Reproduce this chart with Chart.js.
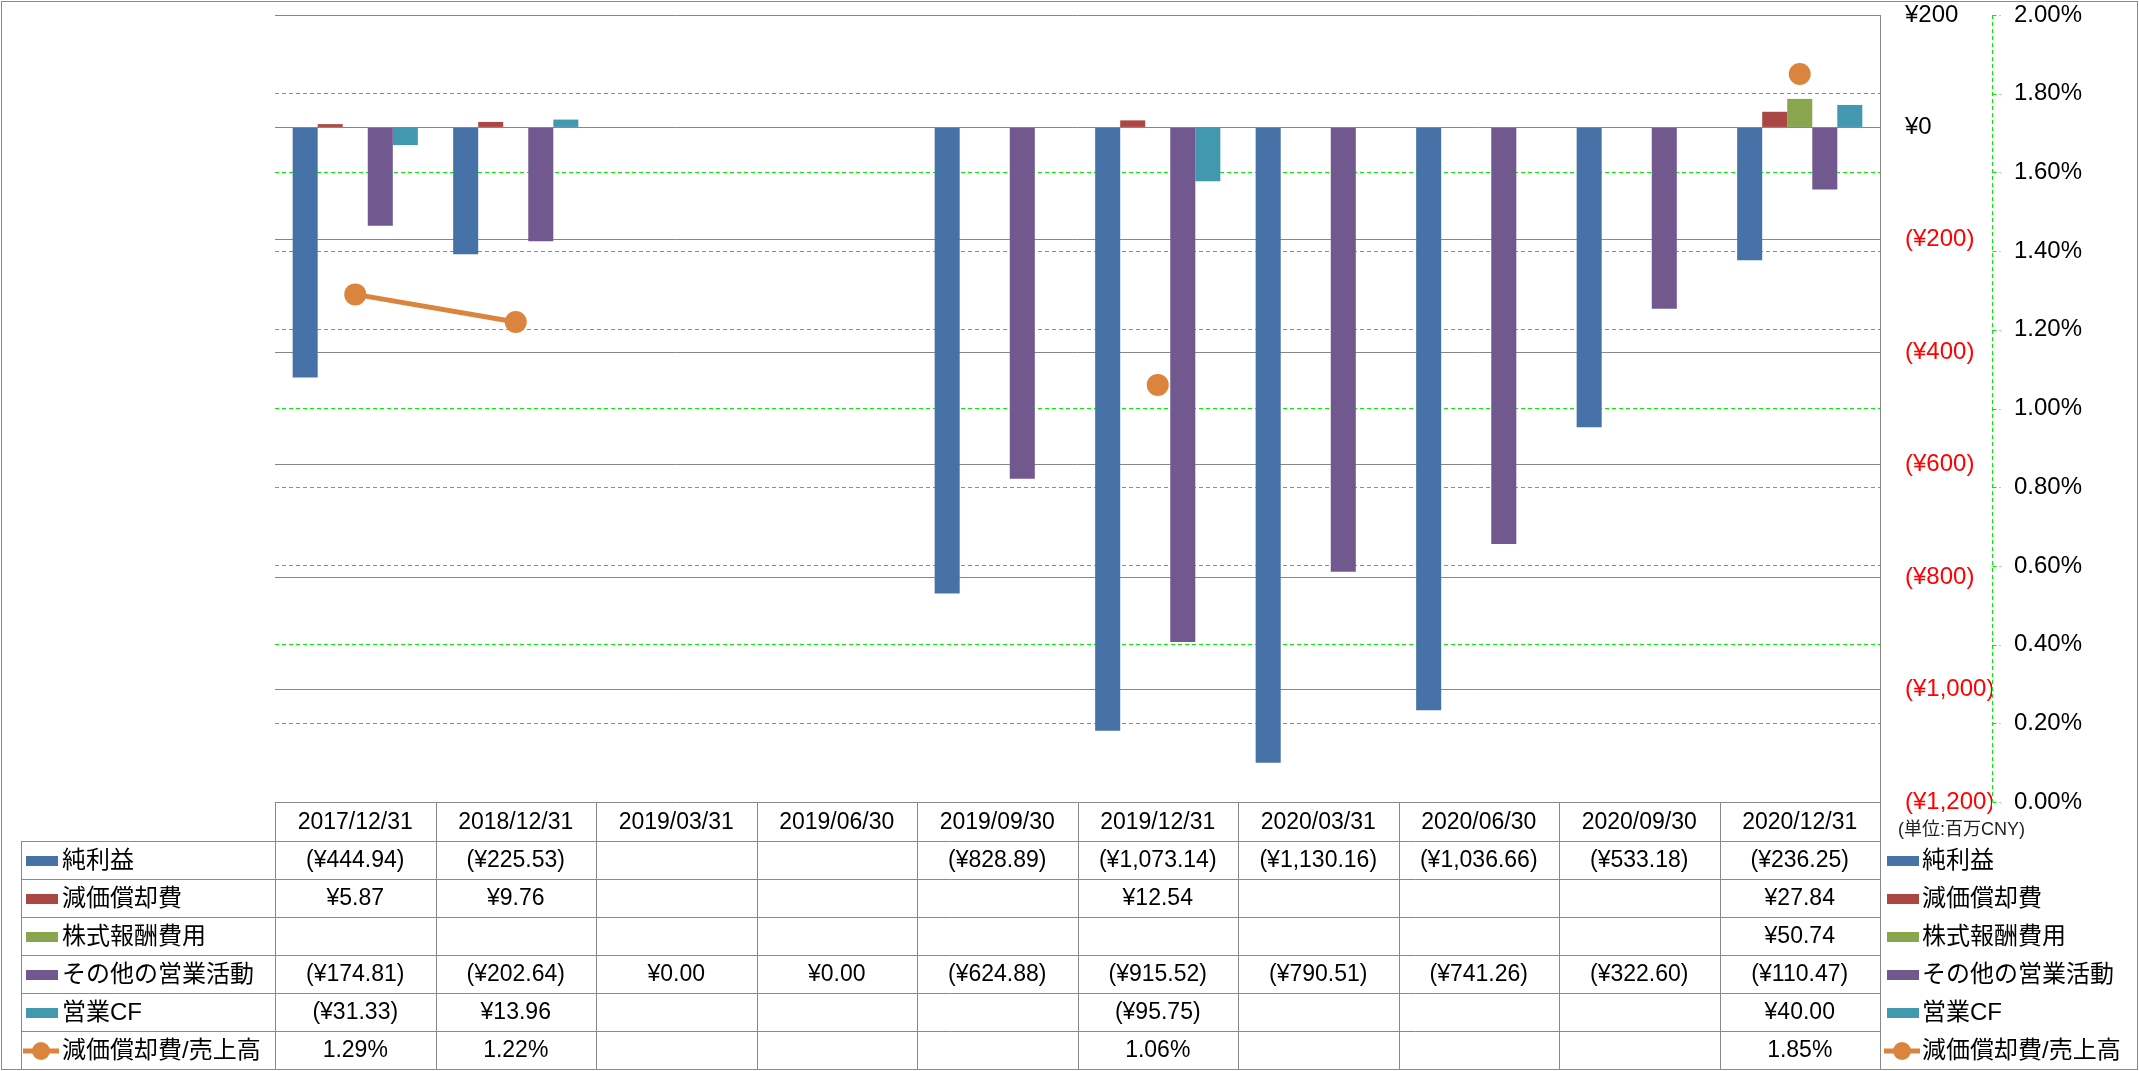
<!DOCTYPE html>
<html>
<head>
<meta charset="utf-8">
<script src="https://cdn.jsdelivr.net/npm/chart.js@4.4.1/dist/chart.umd.min.js"></script>
<style>
  html, body { margin: 0; padding: 0; background: #fff; }
</style>
</head>
<body>
<canvas id="chart" width="2139" height="1071"></canvas>
<script>
// 決算期
const periods = ['2017/12/31', '2018/12/31', '2019/03/31', '2019/06/30', '2019/09/30',
                 '2019/12/31', '2020/03/31', '2020/06/30', '2020/09/30', '2020/12/31'];

// 百万CNY
const netIncome    = [-444.94, -225.53, null, null, -828.89, -1073.14, -1130.16, -1036.66, -533.18, -236.25];
const depreciation = [5.87, 9.76, null, null, null, 12.54, null, null, null, 27.84];
const stockComp    = [null, null, null, null, null, null, null, null, null, 50.74];
const otherOps     = [-174.81, -202.64, 0, 0, -624.88, -915.52, -790.51, -741.26, -322.60, -110.47];
const operatingCF  = [-31.33, 13.96, null, null, null, -95.75, null, null, null, 40.00];
// 減価償却費/売上高 (%)
const deprRatio    = [1.29, 1.22, null, null, null, 1.06, null, null, null, 1.85];

const seriesNames = ['純利益', '減価償却費', '株式報酬費用', 'その他の営業活動', '営業CF', '減価償却費/売上高'];
const colors = ['#4672A8', '#AA4643', '#89A54E', '#71588F', '#4198AF', '#DB843D'];

const FONT = '"Liberation Sans", "Noto Sans CJK JP", sans-serif';
Chart.defaults.font.family = FONT;
Chart.defaults.font.size = 23;
Chart.defaults.color = '#000';

const GREEN = '#00ee00';

function yen(v, digits) {
  const s = Math.abs(v).toLocaleString('en-US', {minimumFractionDigits: digits, maximumFractionDigits: digits});
  return v < 0 ? '(¥' + s + ')' : '¥' + s;
}

const barSeries = [netIncome, depreciation, stockComp, otherOps, operatingCF];

// 表 + 凡例
const tablePlugin = {
  id: 'dataTable',
  afterDraw(chart) {
    const {ctx, chartArea, scales} = chart;
    const x = scales.x;
    const colW = (x.right - x.left) / periods.length;
    const top = chartArea.bottom;
    const headH = 39, rowH = 38;
    const legendLeft = 21;
    const bottom = top + headH + rowH * 6;
    const line = '#898989';

    ctx.save();
    ctx.strokeStyle = line;
    ctx.lineWidth = 1;
    ctx.beginPath();
    // 横線
    for (let r = 0; r <= 6; r++) {
      const yy = Math.round(top + headH + r * rowH) + 0.5;
      ctx.moveTo(legendLeft, yy);
      ctx.lineTo(chartArea.right, yy);
    }
    // 縦線
    for (let c = 0; c <= periods.length; c++) {
      const xx = Math.round(x.left + c * colW) + 0.5;
      ctx.moveTo(xx, top);
      ctx.lineTo(xx, bottom);
    }
    ctx.moveTo(legendLeft + 0.5, top + headH);
    ctx.lineTo(legendLeft + 0.5, bottom);
    ctx.stroke();

    // 外枠
    ctx.strokeRect(1.5, 1.5, chart.width - 3, chart.height - 3);

    // %軸の線と目盛
    const y1 = scales.y1;
    const ax = Math.round(y1.left) + 0.5;
    ctx.strokeStyle = GREEN;
    ctx.setLineDash([4, 3]);
    ctx.beginPath();
    ctx.moveTo(ax, y1.top);
    ctx.lineTo(ax, y1.bottom);
    y1.ticks.forEach(t => {
      const ty = Math.round(y1.getPixelForValue(t.value)) + 0.5;
      ctx.moveTo(ax, ty);
      ctx.lineTo(ax + 8, ty);
    });
    ctx.stroke();
    ctx.setLineDash([]);

    ctx.fillStyle = '#000';
    ctx.font = '23px ' + FONT;
    ctx.textBaseline = 'middle';
    ctx.textAlign = 'center';
    periods.forEach((p, i) => {
      ctx.fillText(p, x.getPixelForValue(i), top + headH / 2 + 1);
    });

    const rows = barSeries.concat([deprRatio]);
    rows.forEach((data, r) => {
      const cy = top + headH + r * rowH + rowH / 2 + 1;
      ctx.textAlign = 'center';
      ctx.fillStyle = '#000';
      ctx.font = '23px ' + FONT;
      data.forEach((v, i) => {
        if (v === null) return;
        const txt = r === 5 ? v.toFixed(2) + '%' : yen(v, 2);
        ctx.fillText(txt, x.getPixelForValue(i), cy);
      });
      // 凡例 (左と右)
      [[26, 62], [1887, 1922]].forEach(([sx, tx]) => {
        if (r === 5) {
          ctx.strokeStyle = colors[5];
          ctx.lineWidth = 5;
          ctx.beginPath();
          ctx.moveTo(sx - 3, cy);
          ctx.lineTo(sx + 33, cy);
          ctx.stroke();
          ctx.fillStyle = colors[5];
          ctx.beginPath();
          ctx.arc(sx + 15, cy, 9, 0, Math.PI * 2);
          ctx.fill();
        } else {
          ctx.fillStyle = colors[r];
          ctx.fillRect(sx, cy - 5, 32, 10);
        }
        ctx.fillStyle = '#000';
        ctx.textAlign = 'left';
        ctx.font = '24px ' + FONT;
        ctx.fillText(seriesNames[r], tx, cy);
      });
    });

    ctx.font = '18px ' + FONT;
    ctx.fillStyle = '#222';
    ctx.textAlign = 'left';
    ctx.fillText('(単位:百万CNY)', 1898, top + 28);
    ctx.restore();
  }
};

const datasets = barSeries.map((data, i) => ({
  type: 'bar',
  label: seriesNames[i],
  data: data,
  backgroundColor: colors[i],
  borderWidth: 0,
  yAxisID: 'y',
  order: 1
}));
datasets.push({
  type: 'line',
  label: seriesNames[5],
  data: deprRatio,
  borderColor: colors[5],
  backgroundColor: colors[5],
  borderWidth: 5,
  pointRadius: 11,
  pointBorderWidth: 0,
  pointBackgroundColor: colors[5],
  spanGaps: false,
  yAxisID: 'y1',
  order: 0
});

function fixWidth(w) {
  return s => { s.width = w; s.paddingTop = 0; s.paddingBottom = 0; };
}

new Chart(document.getElementById('chart').getContext('2d'), {
  data: { labels: periods, datasets: datasets },
  options: {
    responsive: false,
    animation: false,
    layout: { padding: { left: 275, top: 15, bottom: 269, right: 47 } },
    datasets: { bar: { barPercentage: 1, categoryPercentage: 0.78 } },
    plugins: { legend: { display: false }, tooltip: { enabled: false } },
    scales: {
      x: { display: false },
      y: {
        position: 'right',
        min: -1200, max: 200,
        afterFit: fixWidth(112),
        ticks: {
          stepSize: 200,
          padding: 25,
          font: { size: 24 },
          color: c => c.tick.value < 0 ? '#ff0000' : '#000',
          callback: v => yen(v, 0)
        },
        grid: { color: '#878787', lineWidth: 1, drawTicks: false },
        border: { display: true, color: '#878787' }
      },
      y1: {
        position: 'right',
        min: 0, max: 2,
        afterFit: fixWidth(100),
        ticks: {
          stepSize: 0.2,
          padding: 22,
          font: { size: 24 },
          callback: v => v.toFixed(2) + '%'
        },
        grid: {
          color: c => c.tick && (c.tick.value >= 2 || c.tick.value <= 0) ? 'rgba(0,0,0,0)' : GREEN,
          lineWidth: 1,
          drawTicks: false
        },
        border: { display: false, dash: [4, 3] }
      }
    }
  },
  plugins: [tablePlugin]
});
</script>
</body>
</html>
